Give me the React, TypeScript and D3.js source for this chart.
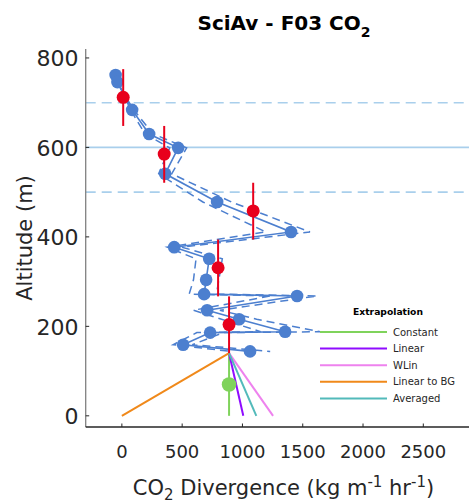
import React from "react";
import * as d3 from "d3";

// Observed divergence profile (altitude in m, divergence in kg m^-1 hr^-1)
const altitude = [762, 746, 684, 630, 599, 541, 478, 411, 377, 351, 304, 272, 268, 236, 216, 188, 186, 159, 144];
const divergence = [-52, -37, 85, 226, 467, 359, 790, 1403, 434, 724, 699, 682, 1453, 707, 972, 1354, 732, 508, 1063];
const divergenceLow = [-44, -31, 72, 192, 397, 305, 672, 1193, 376, 615, 594, 558, 1235, 593, 826, 1151, 622, 425, 904];
const divergenceHigh = [-60, -43, 98, 260, 537, 413, 909, 1560, 499, 833, 804, 784, 1620, 813, 1118, 1645, 842, 584, 1230];

// Binned means with bin extents
const binAltitude = [712, 585, 458, 331, 204];
const binTop = [775, 648, 521, 394, 267];
const binBottom = [648, 521, 394, 267, 140];
const binDivergence = [11, 351, 1089, 798, 889];

// Extrapolation to the surface from the lowest bin
const extrapNames = ["Constant", "Linear", "WLin", "Linear to BG", "Averaged"];
const extrapColors = ["#7fd35b", "#8f0cff", "#ee82ee", "#f0891a", "#52baba"];
const extrapSurface = [889, 1007, 1254, 0, 1115];
const extrapStartAltitude = 140;
const extrapStartDivergence = 889;
const constantAltitude = 70;
const constantDivergence = 889;

// Reference altitudes
const refSolid = [600];
const refDashed = [700, 500];

const xTicks = [0, 500, 1000, 1500, 2000, 2500];
const yTicks = [0, 200, 400, 600, 800];

const W = 469;
const H = 504;
const FONT = "'DejaVu Sans', Verdana, sans-serif";
const BLUE = "#4c7fcf";
const RED = "#e8001c";
const REF = "#a9cfec";
const INK = "#262626";

export default function App() {
  const x = d3.scaleLinear().domain([-300, 3000]).range([85.7, 483.6]);
  const y = d3.scaleLinear().domain([-25, 820]).range([427, 49]);
  const [x0, x1] = x.range();
  const [yb, yt] = y.range();

  const idx = d3.range(altitude.length);
  const line = (vals: number[]) =>
    d3
      .line<number>()
      .x((i) => x(vals[i]))
      .y((i) => y(altitude[i]))(idx) || "";

  return (
    <svg
      width={W}
      height={H}
      style={{ position: "absolute", left: 0, top: 0, background: "#fff" }}
      fontFamily={FONT}
    >
      {/* reference altitudes */}
      {refSolid.map((a) => (
        <line key={"s" + a} x1={x0} x2={x1} y1={y(a)} y2={y(a)} stroke={REF} strokeWidth={1.6} />
      ))}
      {refDashed.map((a) => (
        <line
          key={"d" + a}
          x1={x0}
          x2={x1}
          y1={y(a)}
          y2={y(a)}
          stroke={REF}
          strokeWidth={1.6}
          strokeDasharray="10 6"
        />
      ))}

      {/* profile envelope and profile */}
      <path d={line(divergenceLow)} fill="none" stroke={BLUE} strokeWidth={1.5} strokeDasharray="8 5" />
      <path d={line(divergenceHigh)} fill="none" stroke={BLUE} strokeWidth={1.5} strokeDasharray="8 5" />
      <path d={line(divergence)} fill="none" stroke={BLUE} strokeWidth={1.6} />
      {idx.map((i) => (
        <circle key={"p" + i} cx={x(divergence[i])} cy={y(altitude[i])} r={6.3} fill={BLUE} />
      ))}

      {/* extrapolation lines */}
      {extrapNames.map((n, i) => (
        <line
          key={"e" + n}
          x1={x(extrapStartDivergence)}
          y1={y(extrapStartAltitude)}
          x2={x(extrapSurface[i])}
          y2={y(0)}
          stroke={extrapColors[i]}
          strokeWidth={2}
        />
      ))}
      <circle cx={x(constantDivergence)} cy={y(constantAltitude)} r={7.3} fill={extrapColors[0]} />

      {/* binned means */}
      {binAltitude.map((a, i) => (
        <g key={"b" + i}>
          <line
            x1={x(binDivergence[i])}
            x2={x(binDivergence[i])}
            y1={y(binTop[i])}
            y2={y(binBottom[i])}
            stroke={RED}
            strokeWidth={2}
          />
          <circle cx={x(binDivergence[i])} cy={y(a)} r={6.5} fill={RED} />
        </g>
      ))}

      {/* axes */}
      <line x1={x0} x2={x0} y1={yt} y2={yb} stroke="#808080" strokeWidth={1.3} />
      <line x1={x0} x2={x1} y1={yb} y2={yb} stroke={INK} strokeWidth={1.3} />
      {yTicks.map((t) => (
        <g key={"yt" + t}>
          <line x1={x0} x2={x0 + 3.5} y1={y(t)} y2={y(t)} stroke={INK} strokeWidth={1} />
          <text
            x={78.5}
            y={y(t) + 1}
            textAnchor="end"
            dominantBaseline="central"
            fontSize={22}
            fill={INK}
          >
            {t}
          </text>
        </g>
      ))}
      {xTicks.map((t) => (
        <g key={"xt" + t}>
          <line x1={x(t)} x2={x(t)} y1={yb} y2={yb - 3.5} stroke={INK} strokeWidth={1} />
          <text x={x(t)} y={458} textAnchor="middle" fontSize={18} fill={INK}>
            {t}
          </text>
        </g>
      ))}

      {/* labels */}
      <text x={284} y={30} textAnchor="middle" fontSize={20} fontWeight="bold" fill="#000">
        SciAv - F03 CO<tspan fontSize={14} dy={7}>2</tspan>
      </text>
      <text x={283.5} y={495} textAnchor="middle" fontSize={21} fill={INK}>
        CO<tspan fontSize={15} dy={5}>2</tspan>
        <tspan dy={-5}> Divergence (kg m</tspan>
        <tspan fontSize={15} dy={-8}>-1</tspan>
        <tspan dy={8}> hr</tspan>
        <tspan fontSize={15} dy={-8}>-1</tspan>
        <tspan dy={8}>)</tspan>
      </text>
      <text
        transform={`translate(32, ${(yt + yb) / 2}) rotate(-90)`}
        textAnchor="middle"
        fontSize={21}
        fill={INK}
      >
        Altitude (m)
      </text>

      {/* legend */}
      <text x={388} y={315} textAnchor="middle" fontSize={9.2} fontWeight="bold" fill="#000">
        Extrapolation
      </text>
      {extrapNames.map((n, i) => {
        const ly = 332 + i * 16.6;
        return (
          <g key={"l" + n}>
            <line x1={320} x2={387} y1={ly} y2={ly} stroke={extrapColors[i]} strokeWidth={2} />
            <text x={393} y={ly} dominantBaseline="central" fontSize={10} fill={INK}>
              {n}
            </text>
          </g>
        );
      })}
    </svg>
  );
}
